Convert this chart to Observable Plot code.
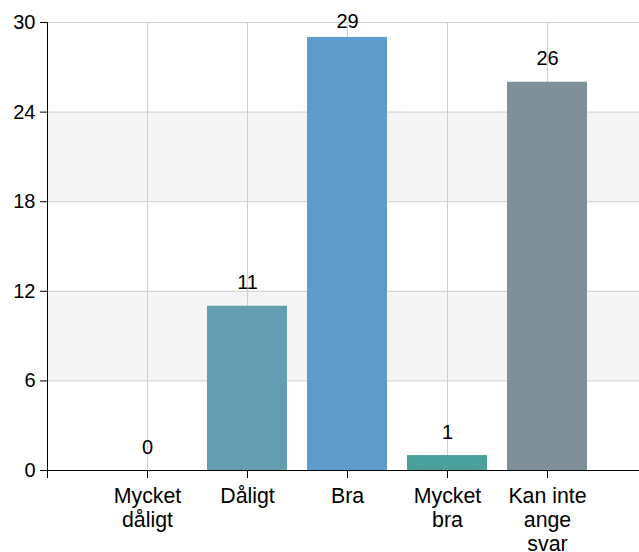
<!DOCTYPE html>
<html><head><meta charset="utf-8">
<script src="https://cdn.jsdelivr.net/npm/d3@7"></script>
<script src="https://cdn.jsdelivr.net/npm/@observablehq/plot@0.6"></script>
<style>
body{margin:0;background:#fff}
#chart svg{font-family:"Liberation Sans",Arial,sans-serif;overflow:visible}
</style>
</head><body><div id="chart"></div>
<script>
const categories = ["Mycket dåligt","Dåligt","Bra","Mycket bra","Kan inte ange svar"];
const tickLabels = ["Mycket\ndåligt","Dåligt","Bra","Mycket\nbra","Kan inte\nange\nsvar"];
const values = [0,11,29,1,26];
const colors = ["#6a9fb0","#659db1","#5f9bcb","#4aa19a","#7f9098"];
const yTicks = [0,6,12,18,24,30];
const shadedBands = [[6,12],[18,24]];
const yMax = 30;
const labelRoom = 2; // labels of bars closer than this to the top are kept inside the frame

const data = categories.map((c,i)=>({c, pos:i+1, v:values[i], color:colors[i]}));
const bands = shadedBands.map(([a,b])=>({a,b}));
const positions = data.map(d=>d.pos);
const normalLabels = data.filter(d => d.v <= yMax - labelRoom);
const topLabels = data.filter(d => d.v > yMax - labelRoom);

const chart = Plot.plot({
  width: 639,
  height: 552,
  marginLeft: 47,
  marginRight: 0,
  marginTop: 22,
  marginBottom: 82,
  style: {fontSize: "20px", fontFamily: '"Liberation Sans",Arial,sans-serif', color: "#000", background: "#fff"},
  x: {type: "linear", domain: [0, 5.92], axis: null},
  y: {domain: [0, yMax], axis: null},
  marks: [
    Plot.rect(bands, {x1: 0, x2: 5.92, y1: "a", y2: "b", fill: "#f5f5f5"}),
    Plot.ruleY(yTicks.filter(t=>t>0), {stroke: "#cfcfcf", strokeWidth: 1}),
    Plot.ruleX(positions, {y1: 0, y2: yMax, stroke: "#cfcfcf", strokeWidth: 1}),
    Plot.rect(data, {x1: d=>d.pos-0.4, x2: d=>d.pos+0.4, y1: 0, y2: "v", fill: "color"}),
    Plot.text(normalLabels, {x: "pos", y: "v", text: d=>String(d.v), lineAnchor: "bottom", dy: -17, fontSize: 20, fill: "#000"}),
    Plot.text(topLabels, {x: "pos", frameAnchor: "top", text: d=>String(d.v), lineAnchor: "top", dy: -9, fontSize: 20, fill: "#000"}),
    Plot.axisY({ticks: yTicks, tickSize: 7, tickPadding: 5, fontSize: 20, stroke: "#000", label: null}),
    Plot.axisX({ticks: [0,1,2,3,4,5], tickFormat: d => d === 0 ? "" : tickLabels[d-1], tickSize: 8, tickPadding: 7, fontSize: 21.33, lineHeight: 1.125, label: null}),
    Plot.ruleX([0], {y1: 0, y2: yMax, stroke: "#000"}),
    Plot.ruleY([0], {stroke: "#000"})
  ]
});
document.getElementById("chart").appendChild(chart);
</script>
</body></html>
